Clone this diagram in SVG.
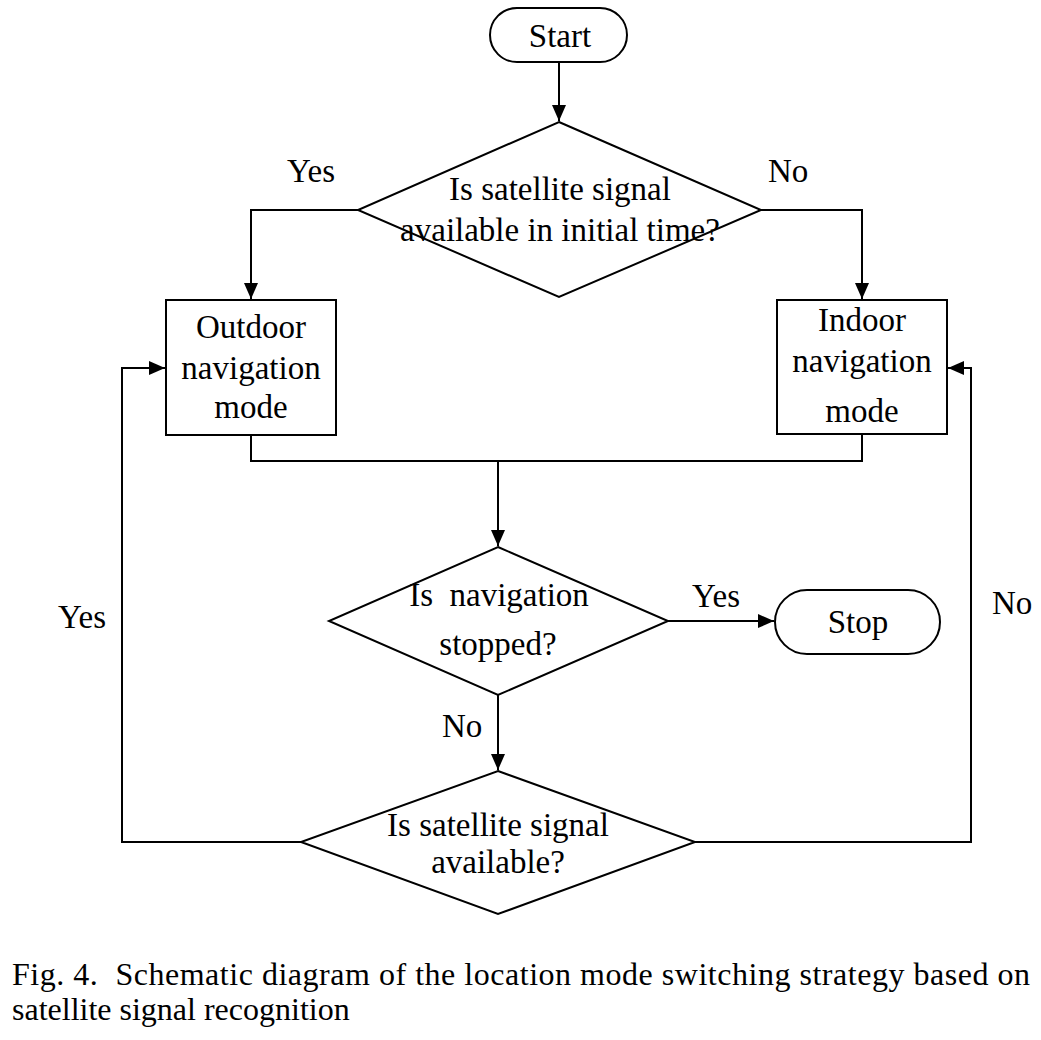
<svg xmlns="http://www.w3.org/2000/svg" width="1041" height="1040" viewBox="0 0 1041 1040">
<style>
.s{fill:#fff;stroke:#000;stroke-width:2}
.c{fill:none;stroke:#000;stroke-width:2}
text{font-family:"Liberation Serif","Times New Roman",serif;font-size:33px;fill:#000}
.m{text-anchor:middle}
.cap{font-size:32px}
</style>
<defs>
<marker id="a" markerWidth="16" markerHeight="14" refX="16" refY="7" orient="auto" markerUnits="userSpaceOnUse">
<path d="M0,0 L16,7 L0,14 Z" fill="#000"/>
</marker>
</defs>
<rect width="1041" height="1040" fill="#fff"/>
<g id="connectors">
<path class="c" d="M559,62 V121" marker-end="url(#a)"/>
<path class="c" d="M358,210 H251 V299" marker-end="url(#a)"/>
<path class="c" d="M761,210 H862 V299" marker-end="url(#a)"/>
<path class="c" d="M251,435 V461 H862 V434"/>
<path class="c" d="M498,461 V546" marker-end="url(#a)"/>
<path class="c" d="M668,621 H774" marker-end="url(#a)"/>
<path class="c" d="M498,695 V770" marker-end="url(#a)"/>
<path class="c" d="M301,842 H122 V368 H165" marker-end="url(#a)"/>
<path class="c" d="M695,842 H971 V368 H948" marker-end="url(#a)"/>
</g>
<g id="start">
<rect class="s" x="490" y="8" width="137" height="54" rx="27"/>
<text class="m" x="560" y="47">Start</text>
</g>
<g id="decision1">
<polygon class="s" points="559,122 761,210 559,297 358,210"/>
<text class="m" x="560" y="200">Is satellite signal</text>
<text class="m" x="560" y="241">available in initial time?</text>
</g>
<g id="outdoor">
<rect class="s" x="166" y="300" width="170" height="135"/>
<text class="m" x="251" y="338">Outdoor</text>
<text class="m" x="251" y="379">navigation</text>
<text class="m" x="251" y="418">mode</text>
</g>
<g id="indoor">
<rect class="s" x="777" y="300" width="170" height="134"/>
<text class="m" x="862" y="331">Indoor</text>
<text class="m" x="862" y="372">navigation</text>
<text class="m" x="862" y="422">mode</text>
</g>
<g id="decision2">
<polygon class="s" points="498,547 668,621 498,695 329,621"/>
<text class="m" x="499" y="606" xml:space="preserve">Is  navigation</text>
<text class="m" x="498" y="655">stopped?</text>
</g>
<g id="stop">
<rect class="s" x="775" y="590" width="165" height="64" rx="32"/>
<text class="m" x="858" y="633">Stop</text>
</g>
<g id="decision3">
<polygon class="s" points="498,771 695,842 498,914 301,842"/>
<text class="m" x="498" y="836">Is satellite signal</text>
<text class="m" x="498" y="873">available?</text>
</g>
<g id="labels">
<text x="287" y="182">Yes</text>
<text x="768" y="182">No</text>
<text x="692" y="607">Yes</text>
<text x="442" y="737">No</text>
<text x="58" y="628">Yes</text>
<text x="992" y="614">No</text>
</g>
<g id="caption">
<text class="cap" x="12" y="985" textLength="1018" lengthAdjust="spacing" xml:space="preserve">Fig. 4.  Schematic diagram of the location mode switching strategy based on</text>
<text class="cap" x="12" y="1020">satellite signal recognition</text>
</g>
</svg>
